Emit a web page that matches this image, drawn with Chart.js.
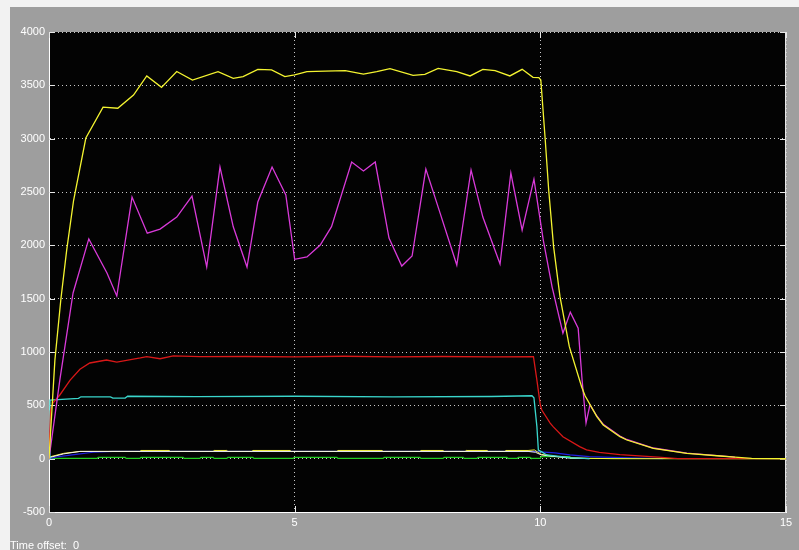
<!DOCTYPE html>
<html>
<head>
<meta charset="utf-8">
<script src="https://cdn.jsdelivr.net/npm/chart.js"></script>
<style>
    body { margin: 0; background: #f2f2f2; width: 799px; height: 550px; overflow: hidden; position: relative; }
    .panel { position: absolute; left: 10px; top: 7px; width: 789px; height: 543px; background: #9e9e9e; }
    #scope { position: absolute; left: 0; top: 0; }
    .offset { position: absolute; left: 10px; top: 539px; font: 11px "Liberation Sans", Arial, sans-serif; color: #fff; white-space: pre; }
</style>
</head>
<body>
<div class="panel"></div>
<canvas id="scope" width="799" height="550"></canvas>
<div class="offset">Time offset:  0</div>
<script>
/* axis ticks */
var xTicks = [0, 5, 10, 15];
var yTicks = [-500, 0, 500, 1000, 1500, 2000, 2500, 3000, 3500, 4000];

/* yellow - main signal */
var yellowT = [0, 0.12, 0.24, 0.36, 0.5, 0.75, 1.1, 1.4, 1.72, 1.99, 2.29, 2.6, 2.92, 3.44, 3.75, 3.95, 4.25, 4.53, 4.8, 5.0, 5.25, 5.62, 6.03, 6.4, 6.67, 6.94, 7.41, 7.65, 7.92, 8.3, 8.57, 8.83, 9.08, 9.38, 9.63, 9.85, 9.97, 10.01, 10.1, 10.17, 10.27, 10.4, 10.59, 10.84, 10.91, 11.15, 11.28, 11.62, 11.76, 12.3, 12.98, 13.66, 13.96, 14.3, 15];
var yellowV = [0, 924, 1487, 1955, 2420, 3006, 3296, 3285, 3409, 3588, 3481, 3630, 3550, 3628, 3566, 3581, 3650, 3644, 3581, 3597, 3628, 3634, 3637, 3606, 3628, 3656, 3594, 3603, 3659, 3628, 3588, 3650, 3637, 3588, 3650, 3575, 3572, 3549, 2987, 2518, 1988, 1519, 1050, 675, 590, 394, 316, 206, 175, 97, 50, 25, 15, 3, 0];

/* magenta */
var magentaT = [0, 0.22, 0.49, 0.81, 1.18, 1.38, 1.69, 2.0, 2.26, 2.6, 2.91, 3.21, 3.48, 3.75, 4.03, 4.25, 4.54, 4.82, 5.0, 5.25, 5.52, 5.75, 6.16, 6.4, 6.64, 6.92, 7.18, 7.39, 7.67, 7.96, 8.3, 8.59, 8.83, 9.18, 9.4, 9.63, 9.87, 10.06, 10.24, 10.46, 10.61, 10.77, 10.85, 10.93, 11.01, 11.15, 11.28, 11.62, 11.76, 12.3, 12.98, 13.66, 13.96];
var magentaV = [0, 736, 1553, 2060, 1741, 1525, 2452, 2114, 2152, 2265, 2461, 1797, 2734, 2174, 1797, 2406, 2734, 2472, 1869, 1891, 2003, 2175, 2781, 2697, 2781, 2068, 1806, 1900, 2715, 2302, 1815, 2706, 2265, 1825, 2678, 2143, 2621, 2049, 1609, 1177, 1374, 1224, 737, 334, 505, 400, 322, 212, 180, 100, 52, 26, 15];

/* red */
var redT = [0, 0.03, 0.08, 0.22, 0.43, 0.63, 0.83, 1.17, 1.38, 1.86, 1.99, 2.26, 2.53, 3.07, 4, 5, 6, 7, 8, 9, 9.86, 9.93, 10.0, 10.03, 10.2, 10.26, 10.46, 10.8, 10.94, 11.2, 11.62, 12.4, 12.8, 15];
var redV = [0, 450, 522, 597, 736, 838, 897, 925, 906, 944, 956, 937, 963, 956, 958, 955, 960, 955, 958, 955, 956, 736, 503, 456, 334, 300, 206, 113, 82, 58, 38, 15, 0, 0];

/* cyan */
var cyanT = [0, 0.02, 0.6, 0.65, 1.25, 1.3, 1.55, 1.6, 3, 5, 7, 9, 9.83, 9.87, 9.93, 9.96, 10.02, 10.13, 10.6, 11];
var cyanV = [0, 550, 566, 580, 580, 568, 568, 585, 582, 585, 580, 583, 590, 570, 300, 81, 66, 35, 10, 0];

/* white */
var whiteT = [0, 0.3, 0.63, 9.75, 9.9, 10.02, 10.3, 10.6, 11];
var whiteV = [10, 45, 68, 68, 60, 35, 20, 5, 0];

/* yellow - small signal */
var ySmallT = [0, 0.3, 0.63, 1.85, 1.87, 2.45, 2.47, 3.34, 3.36, 3.62, 3.64, 4.13, 4.15, 4.91, 4.93, 5.86, 5.88, 6.78, 6.8, 7.55, 7.57, 8.02, 8.04, 8.47, 8.49, 8.92, 8.94, 9.28, 9.3, 9.75, 9.88, 9.95, 10.02, 10.3, 10.6, 11, 11.5, 15];
var ySmallV = [15, 50, 68, 68, 77, 77, 68, 68, 77, 77, 68, 68, 77, 77, 68, 68, 77, 77, 68, 68, 77, 77, 68, 68, 77, 77, 68, 68, 77, 77, 82, 60, 40, 22, 10, 3, 0, 0];

/* blue */
var blueT = [0, 0.2, 0.55, 0.9, 1.3, 9.9, 10.0, 10.3, 10.6, 11.0, 11.3, 12, 12.5];
var blueV = [0, 20, 40, 60, 68, 68, 64, 55, 35, 20, 15, 5, 0];

/* green */
var greenT = [0, 0.98, 1.0, 1.55, 1.57, 1.85, 1.87, 2.73, 2.75, 3.07, 3.09, 3.34, 3.36, 3.62, 3.64, 4.15, 4.17, 4.97, 4.99, 5.86, 5.88, 6.8, 6.82, 7.55, 7.57, 8.02, 8.04, 8.43, 8.45, 8.71, 8.73, 9.32, 9.34, 9.53, 9.55, 9.79, 9.81, 10.0, 10.02, 10.6, 10.62, 15];
var greenV = [3, 3, 12, 12, 3, 3, 12, 12, 3, 3, 12, 12, 3, 3, 12, 12, 3, 3, 12, 12, 3, 3, 12, 12, 3, 3, 12, 12, 3, 3, 12, 12, 3, 3, 12, 12, 3, 3, 20, 20, 2, 0];

function pts(t, v) {
    var out = [];
    for (var i = 0; i < t.length; i++) out.push({x: t[i], y: v[i]});
    return out;
}
function line(data, color, w) {
    return {data: data, borderColor: color, borderWidth: w || 1.3, pointRadius: 0, tension: 0, fill: false};
}

/* black plot area, solid right edge, little tick marks */
var scopeFrame = {
    id: 'scopeFrame',
    beforeDraw: function(chart) {
        var a = chart.chartArea, c = chart.ctx;
        c.save();
        c.fillStyle = '#030303';
        c.fillRect(a.left, a.top, a.right - a.left, a.bottom - a.top);
        c.restore();
    },
    beforeDatasetsDraw: function(chart) {
        var a = chart.chartArea, c = chart.ctx;
        var sx = chart.scales.x, sy = chart.scales.y;
        c.save();
        c.strokeStyle = '#e6e6e6';
        c.lineWidth = 1;
        c.beginPath();
        c.moveTo(Math.round(a.right) - 0.5, a.top);
        c.lineTo(Math.round(a.right) - 0.5, a.bottom);
        yTicks.forEach(function(v) {
            var y = Math.round(sy.getPixelForValue(v)) + 0.5;
            c.moveTo(a.left, y); c.lineTo(a.left + 6, y);
            c.moveTo(a.right - 6, y); c.lineTo(a.right, y);
        });
        xTicks.forEach(function(v) {
            var x = Math.round(sx.getPixelForValue(v)) + 0.5;
            c.moveTo(x, a.bottom); c.lineTo(x, a.bottom - 6);
            c.moveTo(x, a.top); c.lineTo(x, a.top + 6);
        });
        c.stroke();
        c.restore();
    }
};

var tickFont = { family: '"Liberation Sans", Arial, sans-serif', size: 11 };
var ctx = document.getElementById('scope').getContext('2d');
var chart = new Chart(ctx, {
    type: 'line',
    data: {
        datasets: [
            line(pts(yellowT, yellowV), '#f4f430'),
            line(pts(magentaT, magentaV), '#d93ad9'),
            line(pts(redT, redV), '#d81818'),
            line(pts(cyanT, cyanV), '#3ad6cc'),
            line(pts(whiteT, whiteV), '#f0f0f0', 1),
            line(pts(ySmallT, ySmallV), '#f4f430', 1),
            line(pts(blueT, blueV), '#2020e0', 1.2),
            line(pts(greenT, greenV), '#22cc22', 1.2)
        ]
    },
    options: {
        responsive: false,
        animation: false,
        devicePixelRatio: 1,
        layout: { padding: { left: 0, right: 13, top: 32, bottom: 0 } },
        plugins: { legend: { display: false }, tooltip: { enabled: false } },
        scales: {
            x: {
                type: 'linear', min: 0, max: 15,
                afterFit: function(s) { s.height = 38; },
                afterBuildTicks: function(s) { s.ticks = xTicks.map(function(v) { return {value: v}; }); },
                ticks: { color: '#ffffff', padding: 4, autoSkip: false, maxRotation: 0, font: tickFont,
                         callback: function(v) { return String(v); } },
                grid: { color: '#c8c8c8', lineWidth: 1, drawTicks: false },
                border: { display: true, color: '#ffffff', width: 1, dash: [1, 3] }
            },
            y: {
                type: 'linear', min: -500, max: 4000,
                afterFit: function(s) { s.width = 49; },
                afterBuildTicks: function(s) { s.ticks = yTicks.map(function(v) { return {value: v}; }); },
                ticks: { color: '#ffffff', padding: 4, autoSkip: false, font: tickFont,
                         callback: function(v) { return String(v); } },
                grid: { color: '#c8c8c8', lineWidth: 1, drawTicks: false },
                border: { display: true, color: '#ffffff', width: 1, dash: [1, 3] }
            }
        }
    },
    plugins: [scopeFrame]
});
</script>
</body>
</html>
